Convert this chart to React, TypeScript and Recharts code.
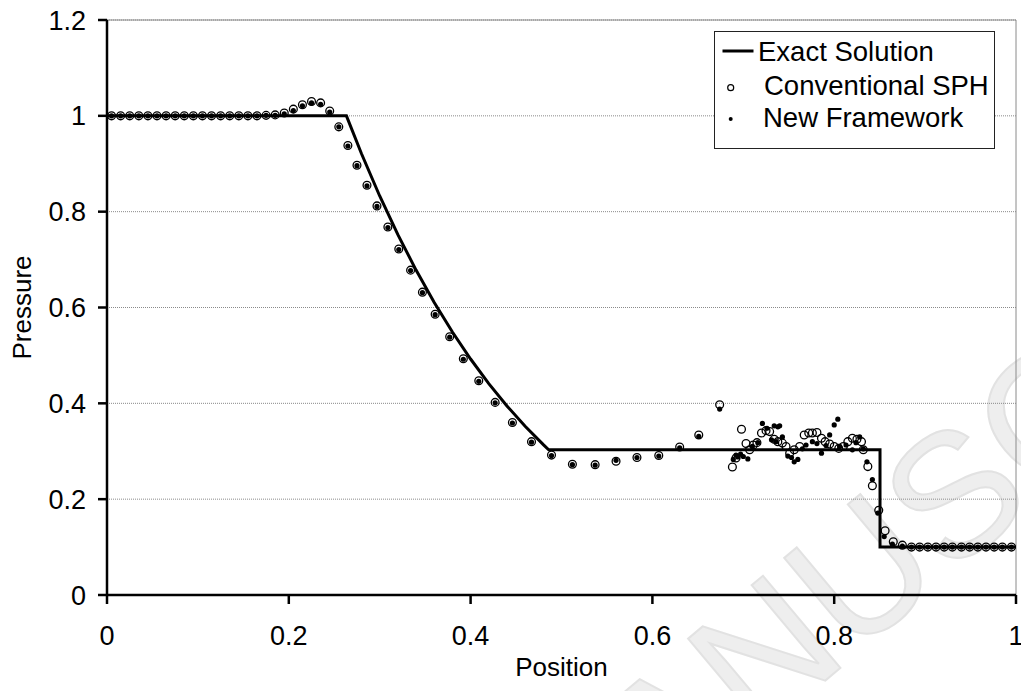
import {
  ComposedChart,
  Line,
  Scatter,
  XAxis,
  YAxis,
  CartesianGrid,
  ReferenceLine,
} from 'recharts';

const FONT = '"Liberation Sans", Arial, Helvetica, sans-serif';

// exact Riemann solution (pressure)
const exactX = [0, 0.2634, 0.28, 0.3, 0.32, 0.34, 0.36, 0.38, 0.4, 0.42, 0.44, 0.46, 0.48, 0.4859, 0.8504, 0.8504, 1];
const exactP = [1, 1, 0.9208, 0.8327, 0.752, 0.6781, 0.6105, 0.5488, 0.4925, 0.4412, 0.3946, 0.3522, 0.3138, 0.3031, 0.3031, 0.1, 0.1];

// conventional SPH particles (open circles)
const sphX = [
  0.005, 0.015, 0.025, 0.035, 0.045, 0.055, 0.065, 0.075, 0.085, 0.095, 0.105, 0.115, 0.125, 0.135, 0.145, 0.155,
  0.165, 0.175, 0.185, 0.195, 0.205, 0.215, 0.225, 0.235, 0.245, 0.255, 0.265, 0.275, 0.286, 0.297, 0.309, 0.321,
  0.334, 0.347, 0.361, 0.377, 0.392, 0.409, 0.427, 0.446, 0.467, 0.489, 0.512, 0.537, 0.56, 0.583, 0.607, 0.63,
  0.651, 0.674, 0.688, 0.692, 0.698, 0.703, 0.707, 0.711, 0.715, 0.72, 0.725, 0.729, 0.734, 0.738, 0.743, 0.747,
  0.751, 0.756, 0.762, 0.767, 0.772, 0.776, 0.781, 0.786, 0.79, 0.795, 0.8, 0.805, 0.81, 0.815, 0.82, 0.825,
  0.83, 0.832, 0.837, 0.842, 0.849, 0.856, 0.865, 0.875, 0.885, 0.894, 0.903, 0.912, 0.921, 0.93, 0.94, 0.949,
  0.958, 0.967, 0.976, 0.985, 0.995,
];
const sphP = [
  1, 1, 1, 1, 1, 1, 1, 1, 1, 1, 1, 1, 1, 1, 1, 1,
  1, 1.001, 1.002, 1.006, 1.014, 1.023, 1.03, 1.027, 1.01, 0.977, 0.938, 0.897, 0.855, 0.812, 0.768, 0.722,
  0.678, 0.632, 0.586, 0.539, 0.493, 0.447, 0.402, 0.36, 0.32, 0.292, 0.273, 0.272, 0.279, 0.287, 0.291, 0.309,
  0.334, 0.397, 0.267, 0.286, 0.346, 0.316, 0.303, 0.313, 0.318, 0.338, 0.343, 0.341, 0.325, 0.32, 0.317, 0.31,
  0.296, 0.303, 0.31, 0.334, 0.338, 0.338, 0.339, 0.327, 0.32, 0.315, 0.31, 0.306, 0.31, 0.32, 0.327, 0.325,
  0.32, 0.303, 0.268, 0.228, 0.177, 0.134, 0.111, 0.104, 0.1, 0.1, 0.1, 0.1, 0.1, 0.1, 0.1, 0.1,
  0.1, 0.1, 0.1, 0.1, 0.1,
];

// new framework particles (filled dots)
const newX = [
  0.005, 0.015, 0.025, 0.035, 0.045, 0.055, 0.065, 0.075, 0.085, 0.095, 0.105, 0.115, 0.125, 0.135, 0.145, 0.155,
  0.165, 0.175, 0.185, 0.195, 0.205, 0.215, 0.225, 0.235, 0.245, 0.255, 0.265, 0.275, 0.286, 0.297, 0.309, 0.321,
  0.334, 0.347, 0.361, 0.377, 0.392, 0.409, 0.427, 0.446, 0.467, 0.489, 0.512, 0.537, 0.56, 0.583, 0.607, 0.63,
  0.651, 0.674, 0.689, 0.692, 0.694, 0.697, 0.7, 0.705, 0.71, 0.716, 0.721, 0.726, 0.731, 0.734, 0.736, 0.738,
  0.74, 0.743, 0.749, 0.753, 0.756, 0.76, 0.765, 0.769, 0.776, 0.781, 0.786, 0.791, 0.795, 0.8, 0.804, 0.806,
  0.813, 0.82, 0.824, 0.828, 0.832, 0.836, 0.842, 0.848, 0.855, 0.864, 0.875, 0.885, 0.894, 0.903, 0.912, 0.921,
  0.93, 0.94, 0.949, 0.958, 0.967, 0.976, 0.985, 0.995,
];
const newP = [
  1, 1, 1, 1, 1, 1, 1, 1, 1, 1, 1, 1, 1, 1, 1, 1,
  1, 1.001, 1.001, 1.004, 1.011, 1.021, 1.027, 1.024, 1.008, 0.977, 0.937, 0.896, 0.854, 0.811, 0.767, 0.721,
  0.677, 0.631, 0.585, 0.538, 0.492, 0.446, 0.401, 0.359, 0.319, 0.291, 0.272, 0.271, 0.281, 0.287, 0.29, 0.307,
  0.331, 0.388, 0.283, 0.292, 0.288, 0.294, 0.289, 0.284, 0.31, 0.318, 0.358, 0.348, 0.324, 0.353, 0.32, 0.351,
  0.353, 0.33, 0.29, 0.287, 0.278, 0.283, 0.305, 0.313, 0.32, 0.316, 0.296, 0.312, 0.334, 0.355, 0.367, 0.31,
  0.313, 0.303, 0.318, 0.33, 0.305, 0.278, 0.241, 0.171, 0.122, 0.106, 0.102, 0.1, 0.1, 0.1, 0.1, 0.1,
  0.1, 0.1, 0.1, 0.1, 0.1, 0.1, 0.1, 0.1,
];

const xTicks = [0, 0.2, 0.4, 0.6, 0.8, 1];
const yTicks = [0, 0.2, 0.4, 0.6, 0.8, 1, 1.2];

const exactData = exactX.map((x, i) => ({ x, y: exactP[i] }));
const sphData = sphX.map((x, i) => ({ x, y: sphP[i] }));
const newData = newX.map((x, i) => ({ x, y: newP[i] }));

const OpenCircle = (props: any) => (
  <circle cx={props.cx} cy={props.cy} r={3.9} fill="none" stroke="#000" strokeWidth={1.3} />
);
const Dot = (props: any) => <circle cx={props.cx} cy={props.cy} r={2.6} fill="#000" />;

const XTitle = (props: any) => {
  const vb = props.viewBox;
  return (
    <text x={vb.x + vb.width / 2} y={676} textAnchor="middle" fontSize={26} fontFamily={FONT} fill="#000">
      Position
    </text>
  );
};

const YTitle = (props: any) => {
  const vb = props.viewBox;
  const cy = vb.y + vb.height / 2;
  return (
    <text
      x={22}
      y={cy}
      dy="0.35em"
      textAnchor="middle"
      fontSize={26}
      fontFamily={FONT}
      fill="#000"
      transform={`rotate(-90 22 ${cy})`}
    >
      Pressure
    </text>
  );
};

function LegendBox() {
  return (
    <svg width={281} height={118} style={{ display: 'block' }}>
      <rect x={0.5} y={0.5} width={280} height={117} fill="#fff" stroke="#222" strokeWidth={1} />
      <line x1={8.5} x2={39.5} y1={20} y2={20} stroke="#000" strokeWidth={3} />
      <text x={44} y={30.4} fontSize={27.5} fontFamily={FONT} fill="#000">Exact Solution</text>
      <circle cx={16.7} cy={56.7} r={3} fill="none" stroke="#000" strokeWidth={1.2} />
      <text x={50} y={64.2} fontSize={27.5} fontFamily={FONT} fill="#000">Conventional SPH</text>
      <circle cx={16.7} cy={88} r={2} fill="#000" />
      <text x={49} y={96.2} fontSize={27.5} fontFamily={FONT} fill="#000">New Framework</text>
    </svg>
  );
}

export default function App() {
  return (
    <div style={{ position: 'absolute', left: 0, top: 0, width: 1021, height: 691, background: '#fff', fontFamily: FONT }}>
      {/* faint journal watermark behind the chart */}
      <svg width={1021} height={691} style={{ position: 'absolute', left: 0, top: 0 }}>
        <text
          x={665}
          y={815}
          fontSize={175}
          fontFamily={FONT}
          fill="#eeeeee"
          stroke="#e2e2e2"
          strokeWidth={2}
          transform="rotate(-40 665 815)"
        >
          ANUSCRIPT
        </text>
      </svg>
      <div style={{ position: 'absolute', left: 0, top: 0 }}>
        <ComposedChart width={1021} height={691} margin={{ top: 20, right: 5, bottom: 0, left: 0 }}>
          <CartesianGrid vertical={false} stroke="#8a8a8a" strokeDasharray="1 1" />
          <XAxis
            dataKey="x"
            type="number"
            domain={[0, 1]}
            ticks={xTicks}
            height={96}
            axisLine={{ stroke: '#000', strokeWidth: 2.5 }}
            tickLine={{ stroke: '#000', strokeWidth: 2.5 }}
            tickSize={9}
            tickMargin={22}
            tick={{ fontSize: 27, fill: '#000', fontFamily: FONT }}
            interval={0}
            allowDataOverflow
            label={{ content: XTitle }}
          />
          <YAxis
            dataKey="y"
            type="number"
            domain={[0, 1.2]}
            ticks={yTicks}
            width={107}
            axisLine={{ stroke: '#000', strokeWidth: 2.5 }}
            tickLine={{ stroke: '#000', strokeWidth: 2.5 }}
            tickSize={9}
            tickMargin={12}
            tick={{ fontSize: 27, fill: '#000', fontFamily: FONT }}
            interval={0}
            allowDataOverflow
            label={{ content: YTitle }}
          />
          <ReferenceLine y={1.2} stroke="#8a8a8a" strokeWidth={1} />
          <ReferenceLine x={1} stroke="#8a8a8a" strokeWidth={1} />
          <Line
            data={exactData}
            dataKey="y"
            type="linear"
            stroke="#000"
            strokeWidth={3}
            dot={false}
            activeDot={false}
            isAnimationActive={false}
          />
          <Scatter data={sphData} dataKey="y" shape={OpenCircle} isAnimationActive={false} />
          <Scatter data={newData} dataKey="y" shape={Dot} isAnimationActive={false} />
        </ComposedChart>
      </div>
      <div style={{ position: 'absolute', left: 714, top: 31 }}>
        <LegendBox />
      </div>
    </div>
  );
}
